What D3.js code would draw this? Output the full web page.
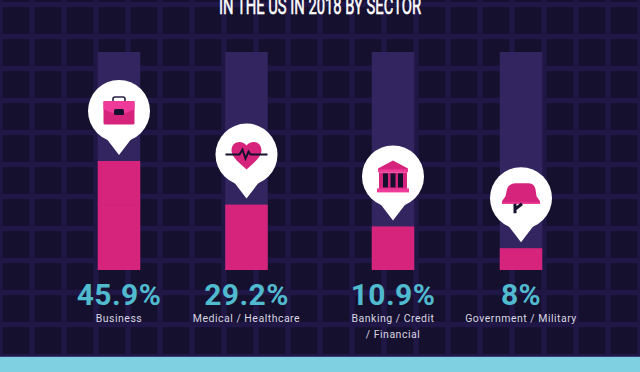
<!DOCTYPE html>
<html><head><meta charset="utf-8">
<script src="https://cdn.jsdelivr.net/npm/d3@7"></script>
<style>html,body{margin:0;padding:0;background:#15102e;overflow:hidden}svg{display:block}</style>
</head><body><svg id="c" width="640" height="372"></svg>
<script>
const sectors = ["Business","Medical / Healthcare","Banking / Credit / Financial","Government / Military"];
const percentLabels = ["45.9%","29.2%","10.9%","8%"];
const fillLevels = [50,30,20,10];
const labelLines = [["Business"],["Medical / Healthcare"],["Banking / Credit","/ Financial"],["Government / Military"]];
const icons = ["case","heart","bank","helmet"];
const barCentres = [119,246.5,393,521];

const W=640,H=372;
const PINK="#d6247d",HOT="#ee3a98",DARK="#15102e",GRID="#211747",TRACK="#33255f",TEAL="#50bacf";
const svg=d3.select("#c");
const y=d3.scaleLinear().domain([0,100]).range([270,52]);
const barW=42.5;

svg.append("rect").attr("width",W).attr("height",H).attr("fill",DARK);
const g=svg.append("g").attr("stroke",GRID).attr("stroke-width",5.5);
g.selectAll("line.v").data(d3.range(0,W+1,32)).join("line").attr("class","v")
 .attr("x1",d=>d).attr("x2",d=>d).attr("y1",0).attr("y2",H);
g.selectAll("line.h").data(d3.range(4.5,H,32)).join("line").attr("class","h")
 .attr("y1",d=>d).attr("y2",d=>d).attr("x1",0).attr("x2",W);

svg.append("rect").attr("y",356).attr("width",W).attr("height",1.5).attr("fill","#3a3f78");
svg.append("rect").attr("y",357).attr("width",W).attr("height",15).attr("fill","#7fd0e0");

svg.append("text").attr("x",320).attr("y",13.5).attr("text-anchor","middle")
 .attr("textLength",202).attr("lengthAdjust","spacingAndGlyphs")
 .attr("font-family","'Liberation Sans Narrow',Roboto,sans-serif")
 .attr("font-size",23).attr("font-weight",400).attr("fill","#fff").attr("stroke","#fff").attr("stroke-width",.6).text("IN THE US IN 2018 BY SECTOR");

const bars=svg.selectAll("g.bar").data(sectors).join("g").attr("class","bar")
 .attr("transform",(d,i)=>`translate(${barCentres[i]},0)`);
bars.append("rect").attr("x",-barW/2).attr("width",barW).attr("y",y(100)).attr("height",y(0)-y(100)).attr("fill",TRACK);
bars.append("rect").attr("x",-barW/2).attr("width",barW).attr("y",(d,i)=>y(fillLevels[i])).attr("height",(d,i)=>y(0)-y(fillLevels[i])).attr("fill",PINK);
bars.filter((d,i)=>i===0).append("rect").attr("x",-barW/2).attr("width",barW).attr("y",y(30)-.5).attr("height",1).attr("fill","#cf2478");

bars.append("text").attr("y",304.5).attr("text-anchor","middle").attr("font-family","Roboto,sans-serif")
 .attr("font-size",30).attr("font-weight",700).attr("letter-spacing",.4).attr("fill",TEAL).text((d,i)=>percentLabels[i]);
bars.each(function(d,i){
  d3.select(this).selectAll("text.l").data(labelLines[i]).join("text").attr("class","l")
   .attr("y",(t,j)=>322+j*15.5).attr("text-anchor","middle").attr("font-family","Roboto,sans-serif")
   .attr("font-size",10.5).attr("letter-spacing",.5).attr("fill","#d9d6e2").text(t=>t);
});

const pin=bars.append("g").attr("transform",(d,i)=>`translate(0,${y(fillLevels[i])-6})`);
pin.append("path").attr("fill","#fff").attr("d","M-13,-17L0,0L13,-17Z");
pin.append("circle").attr("cy",-44).attr("r",31).attr("fill","#fff");
const ic=pin.append("g").attr("transform","translate(0,-44)");
ic.each(function(d,i){
  const s=d3.select(this),k=icons[i];
  if(k==="case"){
    s.append("rect").attr("x",-6).attr("y",-14).attr("width",12).attr("height",8).attr("rx",2).attr("fill","none").attr("stroke","#2a1d45").attr("stroke-width",1.6);
    s.append("rect").attr("x",-15.5).attr("y",-10).attr("width",31).attr("height",23.5).attr("rx",1.5).attr("fill",PINK);
    s.append("path").attr("d","M-15.5,-10H15.5V-2Q0,7 -15.5,-2Z").attr("fill",HOT);
    s.append("rect").attr("x",-5).attr("y",-2).attr("width",10).attr("height",6).attr("rx",1.5).attr("fill",DARK);
  } else if(k==="heart"){
    s.append("path").attr("fill",PINK).attr("d","M0,-9C-4,-15 -15,-14 -15,-4C-15,3 -6,9 0,15C6,9 15,3 15,-4C15,-14 4,-15 0,-9Z");
    s.append("path").attr("fill","none").attr("stroke",DARK).attr("stroke-width",2)
     .attr("d","M-21,0H-7L-4,-5L-1,4L2,-3L4,0H21");
  } else if(k==="bank"){
    s.append("path").attr("fill",PINK).attr("d","M0,-16L15,-8V-5H-15V-8Z");
    s.append("rect").attr("x",-15).attr("y",-7).attr("width",30).attr("height",3).attr("fill",HOT);
    s.append("rect").attr("x",-14).attr("y",-4).attr("width",28).attr("height",17).attr("fill",PINK);
    s.selectAll("rect.w").data([-10,-2.5,5]).join("rect").attr("class","w").attr("x",v=>v).attr("y",-3).attr("width",5).attr("height",14).attr("fill",DARK);
    s.append("rect").attr("x",-16).attr("y",12).attr("width",32).attr("height",4).attr("fill",HOT);
  } else {
    s.append("path").attr("fill",PINK).attr("d","M-14,-9Q-12,-15 -5,-15H8Q13,-15 14.5,-9L15.5,-2L19,3V5.5H-19V3L-15.5,-2Z");
    s.append("rect").attr("x",-19).attr("y",4).attr("width",38).attr("height",1.8).attr("fill",HOT);
    s.append("path").attr("fill","none").attr("stroke",DARK).attr("stroke-width",3).attr("d","M-6,5.5V15M-6,11L1,5.5");
  }
});
</script></body></html>
